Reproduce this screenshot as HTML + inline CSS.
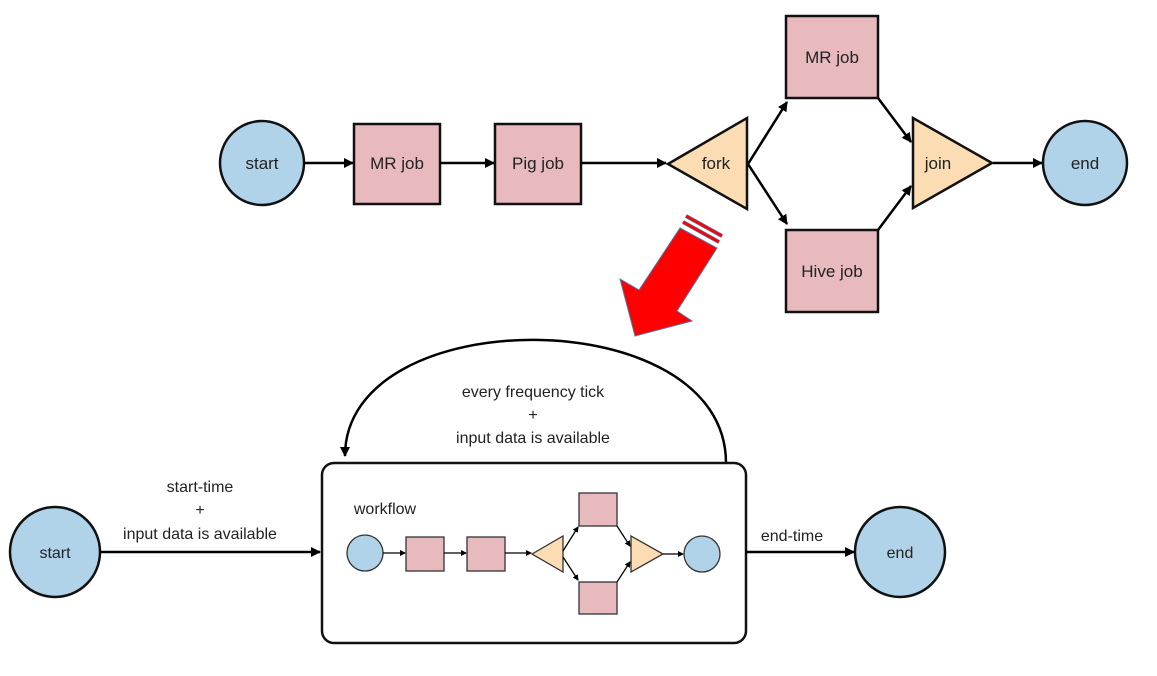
<!DOCTYPE html>
<html><head><meta charset="utf-8"><style>
body{margin:0;background:#fff}
svg text{font-family:"Liberation Sans Narrow","Liberation Sans",sans-serif;fill:#222}
</style></head><body>
<svg width="1157" height="671" viewBox="0 0 1157 671" xmlns="http://www.w3.org/2000/svg">
<defs>
<marker id="a" markerWidth="10" markerHeight="10" refX="9" refY="5" orient="auto" markerUnits="userSpaceOnUse"><path d="M0,0 L10,5 L0,10 z" fill="#000"/></marker>
<marker id="s" markerWidth="6" markerHeight="6" refX="5" refY="3" orient="auto" markerUnits="userSpaceOnUse"><path d="M0,0 L6,3 L0,6 z" fill="#000"/></marker>
</defs>
<g stroke="#111" stroke-width="2.5">
<circle cx="262" cy="163" r="42" fill="#b0d3ea"/>
<rect x="354" y="124" width="86" height="80" fill="#e9babd"/>
<rect x="495" y="124" width="86" height="80" fill="#e9babd"/>
<polygon points="668,164 747,118 747,209" fill="#fbdcb3"/>
<rect x="786" y="16" width="92" height="82" fill="#e9babd"/>
<rect x="786" y="230" width="92" height="82" fill="#e9babd"/>
<polygon points="913,118 913,208 992,163" fill="#fbdcb3"/>
<circle cx="1085" cy="163" r="42" fill="#b0d3ea"/>
</g>
<g stroke="#000" stroke-width="2.5" fill="none" marker-end="url(#a)">
<line x1="304" y1="163" x2="353" y2="163"/>
<line x1="440" y1="163" x2="494" y2="163"/>
<line x1="581" y1="163" x2="666" y2="163"/>
<line x1="748" y1="164" x2="787" y2="102"/>
<line x1="748" y1="164" x2="787" y2="224"/>
<line x1="878" y1="98" x2="911" y2="142"/>
<line x1="878" y1="230" x2="911" y2="186"/>
<line x1="993" y1="163" x2="1042" y2="163"/>
</g>
<g font-size="17" text-anchor="middle">
<text x="262" y="169">start</text><text x="397" y="169">MR job</text><text x="538" y="169">Pig job</text>
<text x="716" y="169">fork</text><text x="832" y="63">MR job</text><text x="832" y="277">Hive job</text>
<text x="938" y="169">join</text><text x="1085" y="169">end</text>
</g>
<!-- red arrow -->
<polygon points="680,228 717,248 677,311 692,321 635,336 620,279 639,290" fill="#f00" stroke="#4a78b0" stroke-width="1"/>
<line x1="683" y1="222" x2="719" y2="242" stroke="#4a78b0" stroke-width="4"/>
<line x1="683" y1="222" x2="719" y2="242" stroke="#f00" stroke-width="2.5"/>
<line x1="686" y1="216" x2="722" y2="236" stroke="#4a78b0" stroke-width="4"/>
<line x1="686" y1="216" x2="722" y2="236" stroke="#f00" stroke-width="2.5"/>
<!-- bottom -->
<path d="M726,463 C726,300 345,300 345,456" fill="none" stroke="#000" stroke-width="2.5" marker-end="url(#a)"/>
<rect x="322" y="463" width="424" height="180" rx="12" fill="#fff" stroke="#111" stroke-width="2.5"/>
<circle cx="55" cy="552" r="45" fill="#b0d3ea" stroke="#111" stroke-width="2.5"/>
<circle cx="900" cy="552" r="45" fill="#b0d3ea" stroke="#111" stroke-width="2.5"/>
<line x1="100" y1="552" x2="320" y2="552" stroke="#000" stroke-width="2.5" marker-end="url(#a)"/>
<line x1="746" y1="552" x2="854" y2="552" stroke="#000" stroke-width="2.5" marker-end="url(#a)"/>
<g font-size="16" text-anchor="middle">
<text x="55" y="558">start</text><text x="900" y="558">end</text>
<text x="200" y="492">start-time</text><text x="200" y="515">+</text><text x="200" y="539">input data is available</text>
<text x="533" y="397">every frequency tick</text><text x="533" y="420">+</text><text x="533" y="443">input data is available</text>
<text x="792" y="541">end-time</text>
<text x="385" y="514">workflow</text>
</g>
<g stroke="#333" stroke-width="1.3">
<circle cx="365" cy="553" r="18" fill="#b0d3ea"/>
<rect x="406" y="537" width="38" height="34" fill="#e9babd"/>
<rect x="467" y="537" width="38" height="34" fill="#e9babd"/>
<polygon points="532,554 563,536 563,572" fill="#fbdcb3"/>
<rect x="579" y="493" width="38" height="33" fill="#e9babd"/>
<rect x="579" y="582" width="38" height="32" fill="#e9babd"/>
<polygon points="631,536 631,572 663,554" fill="#fbdcb3"/>
<circle cx="702" cy="554" r="18" fill="#b0d3ea"/>
</g>
<g stroke="#000" stroke-width="1.3" marker-end="url(#s)">
<line x1="383" y1="553" x2="405" y2="553"/>
<line x1="444" y1="553" x2="466" y2="553"/>
<line x1="505" y1="553" x2="531" y2="553"/>
<line x1="563" y1="551" x2="578" y2="527"/>
<line x1="563" y1="557" x2="578" y2="580"/>
<line x1="617" y1="526" x2="630" y2="546"/>
<line x1="617" y1="582" x2="630" y2="562"/>
<line x1="663" y1="554" x2="683" y2="554"/>
</g>
</svg>
</body></html>
